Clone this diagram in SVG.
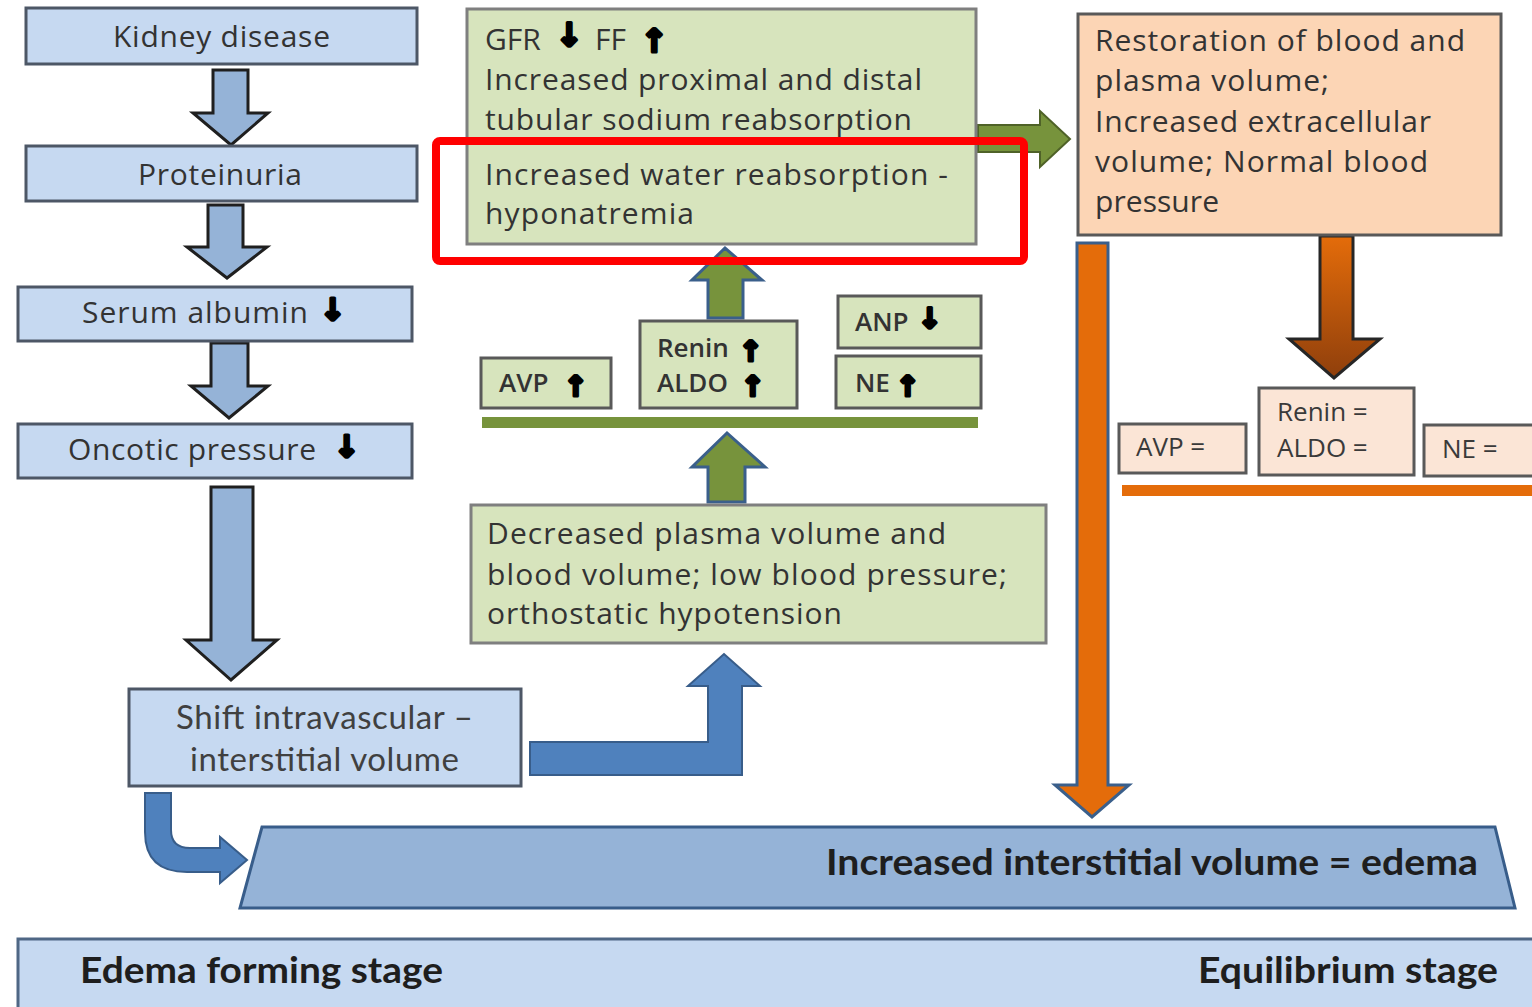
<svg xmlns="http://www.w3.org/2000/svg" width="1532" height="1007" viewBox="0 0 1532 1007">
  <defs>
    <linearGradient id="brownFill" x1="0" y1="0" x2="0" y2="1">
      <stop offset="0" stop-color="#e46c0a"/>
      <stop offset="1" stop-color="#8f3f0c"/>
    </linearGradient>
  </defs>
  <style>
    .blueBox { fill: #c6d9f1; stroke: #4d5766; stroke-width: 3; }
    .greenBox { fill: #d7e4bd; stroke: #7f7f7f; stroke-width: 3; }
    .greenTag { fill: #d7e4bd; stroke: #595959; stroke-width: 3; }
    .peachBox { fill: #fcd5b5; stroke: #595959; stroke-width: 3; }
    .peachTag { fill: #fbe5d6; stroke: #595959; stroke-width: 3; }
    .downBlue { fill: #95b3d7; stroke: #1f1f1f; stroke-width: 3; stroke-linejoin: miter; }
    .flowBlue { fill: #4f81bd; stroke: #385d8a; stroke-width: 2; }
    .flowGreen { fill: #77933c; stroke: #3a5f8b; stroke-width: 3; }
    .flowGreenR { fill: #77933c; stroke: #4f6228; stroke-width: 2; }
    .txt { font-family: "Open Sans", "Liberation Sans", sans-serif; font-size: 30px; fill: #333333; }
    .tag { font-family: "Open Sans", "Liberation Sans", sans-serif; font-size: 26px; font-weight: 600; fill: #333333; }
    .tagR { font-family: "Open Sans", "Liberation Sans", sans-serif; font-size: 26px; fill: #3a3a3a; }
    .cond { font-family: Lato, "Liberation Sans", sans-serif; font-size: 33px; fill: #404040; }
    .bold { font-family: Lato, "Liberation Sans", sans-serif; font-size: 36px; font-weight: bold; fill: #1e1e1e; }
    .arw { font-family: "DejaVu Sans", sans-serif; font-weight: bold; fill: #000; stroke: #000; stroke-width: 3.2; stroke-linejoin: round; }
  </style>

  <rect width="1532" height="1007" fill="#ffffff"/>

  <!-- connectors -->
  <g id="connectors">
    <!-- left column down arrows -->
    <polygon class="downBlue" points="213,70 248,70 248,113 268,113 231,145 193,113 213,113"/>
    <polygon class="downBlue" points="208,205 243,205 243,247 267,247 227,278 187,247 208,247"/>
    <polygon class="downBlue" points="211,343 248,343 248,386 268,386 229,418 191,386 211,386"/>
    <polygon class="downBlue" points="211,487 253,487 253,640 277,640 231,680 186,640 211,640"/>
    <!-- shift box to decreased volume box -->
    <path class="flowBlue" d="M530,742 H708 V686 H688 L724,654 L760,686 H742 V775 H530 Z"/>
    <!-- shift box to edema band -->
    <path class="flowBlue" d="M145,793 H171 V830 Q171,848 190,848 H220 V837 L247,860 L220,883 V872 H187 Q145,872 145,832 Z"/>
    <!-- green upward arrows -->
    <polygon class="flowGreen" points="708,318 743,318 743,280 762,280 725,248 692,280 708,280"/>
    <polygon class="flowGreen" points="708,502 745,502 745,467 765,467 727,433 692,467 708,467"/>
    <!-- green arrow to restoration box -->
    <path class="flowGreenR" d="M978,125 H1040 V111 L1070,139 L1040,167 V152 H978 Z"/>
    <!-- green hormone bar -->
    <rect x="482" y="417" width="496" height="11" fill="#77933c"/>
    <!-- orange long arrow to edema band -->
    <polygon points="1077,243 1108,243 1108,785 1129,785 1092,817 1055,785 1077,785" fill="#e46c0a" stroke="#3a5f8b" stroke-width="3"/>
    <!-- brown arrow to equilibrium hormones -->
    <polygon points="1320,236 1353,236 1353,339 1380,339 1334,378 1289,339 1320,339" fill="url(#brownFill)" stroke="#262626" stroke-width="3"/>
    <!-- orange hormone bar -->
    <rect x="1122" y="485" width="410" height="11" fill="#e46c0a"/>
  </g>

  <!-- left column -->
  <g id="kidney-disease">
    <rect class="blueBox" x="26" y="8" width="391" height="56"/>
    <text class="txt" x="113" y="47" textLength="217">Kidney disease</text>
  </g>
  <g id="proteinuria">
    <rect class="blueBox" x="26" y="146" width="391" height="55"/>
    <text class="txt" x="138" y="185" textLength="164">Proteinuria</text>
  </g>
  <g id="serum-albumin">
    <rect class="blueBox" x="18" y="287" width="394" height="54"/>
    <text class="txt" x="82" y="323" textLength="226">Serum albumin</text>
    <text class="arw" x="320" y="320" font-size="30">↓</text>
  </g>
  <g id="oncotic-pressure">
    <rect class="blueBox" x="18" y="424" width="394" height="54"/>
    <text class="txt" x="68" y="460" textLength="248">Oncotic pressure</text>
    <text class="arw" x="334" y="457" font-size="30">↓</text>
  </g>
  <g id="shift-volume">
    <rect class="blueBox" x="129" y="689" width="392" height="97"/>
    <text class="cond" x="176" y="729" textLength="297">Shift intravascular –</text>
    <text class="cond" x="190" y="771" textLength="269">interstitial volume</text>
  </g>

  <!-- middle column -->
  <g id="tubular-response">
    <rect class="greenBox" x="467" y="9" width="509" height="235"/>
    <text class="txt" x="485" y="50">GFR</text>
    <text class="arw" x="556" y="46" font-size="32">↓</text>
    <text class="txt" x="595" y="50">FF</text>
    <text class="arw" x="641" y="52" font-size="32">↑</text>
    <text class="txt" x="485" y="90" textLength="437">Increased proximal and distal</text>
    <text class="txt" x="485" y="130" textLength="427">tubular sodium reabsorption</text>
    <text class="txt" x="485" y="185" textLength="463">Increased water reabsorption -</text>
    <text class="txt" x="485" y="224" textLength="209">hyponatremia</text>
  </g>
  <g id="avp-up">
    <rect class="greenTag" x="481" y="358" width="130" height="50"/>
    <text class="tag" x="499" y="392">AVP</text>
    <text class="arw" x="564" y="396" font-size="28">↑</text>
  </g>
  <g id="renin-aldo-up">
    <rect class="greenTag" x="640" y="321" width="157" height="87"/>
    <text class="tag" x="657" y="357">Renin</text>
    <text class="arw" x="739" y="361" font-size="28">↑</text>
    <text class="tag" x="657" y="392">ALDO</text>
    <text class="arw" x="741" y="396" font-size="28">↑</text>
  </g>
  <g id="anp-down">
    <rect class="greenTag" x="838" y="296" width="143" height="52"/>
    <text class="tag" x="855" y="331">ANP</text>
    <text class="arw" x="918" y="328" font-size="28">↓</text>
  </g>
  <g id="ne-up">
    <rect class="greenTag" x="836" y="356" width="145" height="52"/>
    <text class="tag" x="855" y="392">NE</text>
    <text class="arw" x="896" y="396" font-size="28">↑</text>
  </g>
  <g id="decreased-volume">
    <rect class="greenBox" x="471" y="505" width="575" height="138"/>
    <text class="txt" x="487" y="544" textLength="459">Decreased plasma volume and</text>
    <text class="txt" x="487" y="585" textLength="520">blood volume; low blood pressure;</text>
    <text class="txt" x="487" y="624" textLength="355">orthostatic hypotension</text>
  </g>

  <!-- right column -->
  <g id="restoration">
    <rect class="peachBox" x="1078" y="14" width="423" height="221"/>
    <text class="txt" x="1095" y="51" textLength="370">Restoration of blood and</text>
    <text class="txt" x="1095" y="91" textLength="234">plasma volume;</text>
    <text class="txt" x="1095" y="132" textLength="336">Increased extracellular</text>
    <text class="txt" x="1095" y="172" textLength="333">volume; Normal blood</text>
    <text class="txt" x="1095" y="212" textLength="124">pressure</text>
  </g>
  <g id="avp-equal">
    <rect class="peachTag" x="1119" y="424" width="127" height="49"/>
    <text class="tagR" x="1136" y="456">AVP  =</text>
  </g>
  <g id="renin-aldo-equal">
    <rect class="peachTag" x="1259" y="388" width="155" height="87"/>
    <text class="tagR" x="1277" y="421">Renin =</text>
    <text class="tagR" x="1277" y="457">ALDO  =</text>
  </g>
  <g id="ne-equal">
    <rect class="peachTag" x="1424" y="425" width="112" height="51"/>
    <text class="tagR" x="1442" y="458">NE =</text>
  </g>

  <!-- edema band -->
  <g id="edema">
    <polygon points="262,827 1495,827 1515,908 240,908" fill="#95b3d7" stroke="#385d8a" stroke-width="3"/>
    <text class="bold" x="826" y="875" textLength="652" lengthAdjust="spacingAndGlyphs">Increased interstitial volume = edema</text>
  </g>

  <!-- stage banner -->
  <g id="stages">
    <rect x="18" y="939" width="1520" height="75" fill="#c6d9f1" stroke="#4f6785" stroke-width="3"/>
    <text class="bold" x="80" y="983" textLength="363" lengthAdjust="spacingAndGlyphs">Edema forming stage</text>
    <text class="bold" x="1198" y="983" textLength="300" lengthAdjust="spacingAndGlyphs">Equilibrium stage</text>
  </g>

  <!-- highlight frame -->
  <rect x="436" y="141" width="588" height="120" rx="4" fill="none" stroke="#ff0000" stroke-width="8"/>
</svg>
